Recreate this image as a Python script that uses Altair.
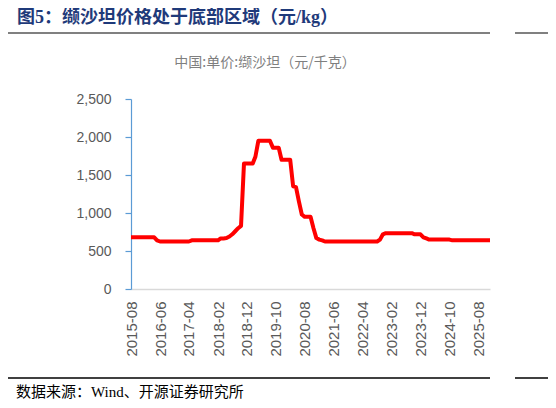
import altair as alt
import pandas as pd

# monthly price, 2015-08 .. 2025-12 (元/千克)
months = pd.date_range("2015-08-01", periods=125, freq="MS").strftime("%Y-%m-%d").tolist()
price = (
    [680] * 9 + [640] + [625] * 11 + [640] * 10
    + [665, 665, 670, 690, 720, 760, 800, 830]
    + [1650] * 4 + [1740] + [1950] * 5 + [1860] * 3 + [1700] * 4
    + [1350, 1340, 1150, 980, 950, 950, 950, 800, 670, 650, 640]
    + [625] * 19 + [650, 720] + [735] * 10 + [720] * 3
    + [680, 665] + [650] * 8 + [640] * 14
)
tick_months = [(2015 + (7 + 10 * i) // 12, (7 + 10 * i) % 12 + 1) for i in range(13)]
y_ticks = [0, 500, 1000, 1500, 2000, 2500]

title = "图5：缬沙坦价格处于底部区域（元/kg）"
subtitle = "中国:单价:缬沙坦（元/千克）"
source = "数据来源：Wind、开源证券研究所"

W, H = 359, 190
GRAY = "#595959"
BLUE = "#5B9BD5"

df = pd.DataFrame({"month": months, "price": price})

line = (
    alt.Chart(df)
    .mark_line(color="#FF0000", strokeWidth=4, strokeJoin="round")
    .encode(
        x=alt.X("month:T", title=None,
                scale=alt.Scale(type="utc",
                                domain=[alt.DateTime(year=2015, month=8, date=1, utc=True),
                                        alt.DateTime(year=2025, month=12, date=1, utc=True)]),
                axis=alt.Axis(values=[alt.DateTime(year=y, month=m, date=1, utc=True)
                                      for y, m in tick_months],
                              format="%Y-%m", labelAngle=-90, ticks=False, grid=False,
                              domainColor="#D9D9D9", domainWidth=1.5,
                              labelColor=GRAY, labelFontSize=15, labelPadding=12,
                              labelFont="Liberation Sans")),
        y=alt.Y("price:Q", title=None,
                scale=alt.Scale(domain=[0, 2500], nice=False),
                axis=alt.Axis(values=y_ticks, format=",.0f", grid=False,
                              domainColor=BLUE, tickColor=BLUE, tickSize=6,
                              domainWidth=1.2, tickWidth=1.2,
                              labelColor=GRAY, labelFontSize=14, labelPadding=14,
                              labelFont="Liberation Sans")),
    )
)

def text_at(txt, x, y, size, color, font, bold=False, align="left"):
    return (
        alt.Chart(pd.DataFrame({"t": [txt]}))
        .mark_text(align=align, baseline="middle", fontSize=size, color=color,
                   font=font, fontWeight="bold" if bold else "normal")
        .encode(x=alt.value(x), y=alt.value(y), text="t:N")
    )

def rule_at(x1, x2, y, color, width):
    return (
        alt.Chart(pd.DataFrame({"a": [0]}))
        .mark_rule(color=color, strokeWidth=width)
        .encode(x=alt.value(x1), x2=alt.value(x2), y=alt.value(y))
    )

serif = "Liberation Serif, Noto Sans CJK SC"
chart = (
    alt.layer(
        line,
        text_at(title, -114, -81, 18, "#1F3A7A", serif, bold=True),
        rule_at(-126, 359, -66, "#808080", 2),
        rule_at(384, 425, -66, "#808080", 2),
        text_at(subtitle, 134, -36, 14, "#7F7F7F", "Noto Sans CJK SC", align="center"),
        rule_at(-126, 359, 279, "#000000", 1.5),
        rule_at(384, 425, 279, "#000000", 1.5),
        text_at(source, -115, 293, 15, "#000000", serif),
    )
    .properties(width=W, height=H, autosize="none",
                padding={"left": 123, "top": 91, "right": 58, "bottom": 111})
    .configure_view(strokeWidth=0)
)

chart.save("out.html", embed_options={"renderer": "svg", "actions": False})
